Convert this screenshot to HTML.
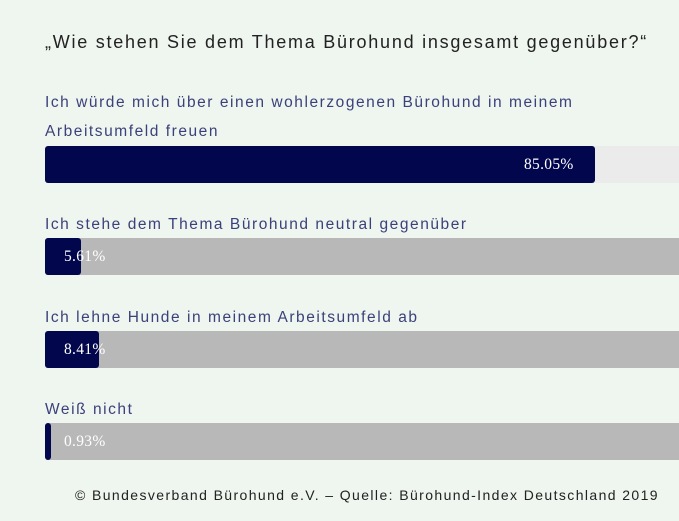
<!DOCTYPE html>
<html><head><meta charset="utf-8"><style>
body{margin:0;width:679px;height:521px;background:#eff5ef;font-family:"Liberation Sans",sans-serif;position:relative;overflow:hidden}
.t{position:absolute;white-space:nowrap}
.title{left:45px;top:32px;font-size:18px;color:#222;letter-spacing:1.75px}
.lab{left:45px;font-size:15.5px;color:#3c417a;letter-spacing:1.55px}
.track{position:absolute;left:45px;width:640px;height:37px;border-radius:3px}
.fill{position:absolute;left:0;top:0;height:100%;background:#02074d;border-radius:3px}
.val{position:absolute;top:10px;font-family:"Liberation Serif",serif;font-size:15.5px;color:#fff;letter-spacing:0.3px}
.foot{left:75px;top:487px;font-size:14px;color:#222;letter-spacing:1.4px}
</style></head><body>
<div class="t title">„Wie stehen Sie dem Thema Bürohund insgesamt gegenüber?“</div>
<div class="t lab" style="top:94px">Ich würde mich über einen wohlerzogenen Bürohund in meinem</div>
<div class="t lab" style="top:123px">Arbeitsumfeld freuen</div>
<div class="track" style="top:146px;background:#ebebeb"><div class="fill" style="width:550px"></div><div class="val" style="left:479px">85.05%</div></div>
<div class="t lab" style="top:216px">Ich stehe dem Thema Bürohund neutral gegenüber</div>
<div class="track" style="top:238px;background:#b8b8b8"><div class="fill" style="width:36px"></div><div class="val" style="left:19px">5.61%</div></div>
<div class="t lab" style="top:309px">Ich lehne Hunde in meinem Arbeitsumfeld ab</div>
<div class="track" style="top:331px;background:#b8b8b8"><div class="fill" style="width:54px"></div><div class="val" style="left:19px">8.41%</div></div>
<div class="t lab" style="top:401px">Weiß nicht</div>
<div class="track" style="top:423px;background:#b8b8b8"><div class="fill" style="width:6px"></div><div class="val" style="left:19px">0.93%</div></div>
<div class="t foot">© Bundesverband Bürohund e.V. – Quelle: Bürohund-Index Deutschland 2019</div>
</body></html>
